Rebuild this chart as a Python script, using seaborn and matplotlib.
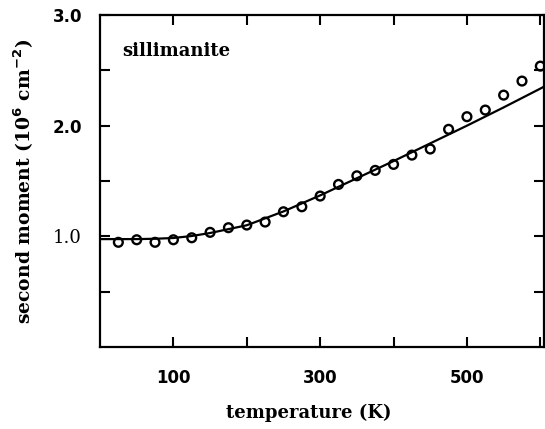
import seaborn as sns
import pandas as pd
import matplotlib.pyplot as plt

# measured points (open circles)
temp_pts = [25, 50, 75, 100, 125, 150, 175, 200, 225, 250, 275, 300,
            325, 350, 375, 400, 425, 450, 475, 500, 525, 550, 575, 600]
moment_pts = [0.946, 0.969, 0.946, 0.969, 0.987, 1.036, 1.078, 1.102,
              1.129, 1.222, 1.267, 1.364, 1.469, 1.547, 1.596, 1.650,
              1.734, 1.789, 1.967, 2.081, 2.141, 2.276, 2.403, 2.538]

# calculated curve (solid line)
temp_fit = [0, 25, 50, 75, 100, 125, 150, 175, 200, 250, 300, 350,
            400, 450, 500, 550, 600, 610]
moment_fit = [0.975, 0.975, 0.975, 0.978, 0.985, 1.003, 1.03, 1.065,
              1.10, 1.225, 1.37, 1.525, 1.68, 1.84, 2.0, 2.165, 2.335, 2.37]

x_ticks = [100, 200, 300, 400, 500, 600]
x_labels = ['100', '', '300', '', '500', '']
y_ticks = [0.5, 1.0, 1.5, 2.0, 2.5, 3.0]
y_labels = ['', '1.0', '', '2.0', '', '3.0']

pts = pd.DataFrame({'T': temp_pts, 'M': moment_pts})
fit = pd.DataFrame({'T': temp_fit, 'M': moment_fit})

sns.set_style('ticks', {'axes.edgecolor': 'black', 'text.color': 'black',
                        'xtick.color': 'black', 'ytick.color': 'black',
                        'axes.labelcolor': 'black'})
plt.rcParams['font.family'] = ['DejaVu Sans']

fig = plt.figure(figsize=(5.45, 4.29), dpi=100)
ax = fig.add_axes([100 / 545, 1 - 347 / 429, 444 / 545, 332 / 429])

sns.lineplot(data=fit, x='T', y='M', color='black', linewidth=1.6, ax=ax)
sns.scatterplot(data=pts, x='T', y='M', marker='o', s=40, facecolor='none',
                edgecolor='black', linewidth=1.7, ax=ax, zorder=3)

ax.set_xlim(0, 605)
ax.set_ylim(0, 3.0)
ax.set_xticks(x_ticks)
ax.set_xticklabels(x_labels)
ax.set_yticks(y_ticks)
ax.set_yticklabels(y_labels)
ax.tick_params(direction='in', length=7, width=1.5, top=True, right=True,
               labelsize=12, pad=13)
ax.tick_params(axis='x', pad=16)
for lab in ax.get_xticklabels() + ax.get_yticklabels():
    lab.set_fontweight('bold')
ax.get_yticklabels()[1].set_fontfamily('DejaVu Serif')
ax.get_yticklabels()[1].set_fontweight('normal')
ax.get_yticklabels()[1].set_fontsize(13)
for sp in ax.spines.values():
    sp.set_linewidth(1.6)
    sp.set_visible(True)

ax.set_xlabel('temperature (K)', fontfamily='DejaVu Serif', fontweight='bold',
              fontsize=13)
ax.xaxis.set_label_coords(0.47, -0.17)
ax.set_ylabel(r'second moment (10$^\mathbf{6}$ cm$^\mathbf{-2}$)',
              fontfamily='DejaVu Serif', fontweight='bold', fontsize=13.5,
              labelpad=12)
ax.text(30, 2.63, 'sillimanite', fontfamily='DejaVu Serif',
        fontweight='bold', fontsize=13)

plt.savefig('out.png', dpi=100)
